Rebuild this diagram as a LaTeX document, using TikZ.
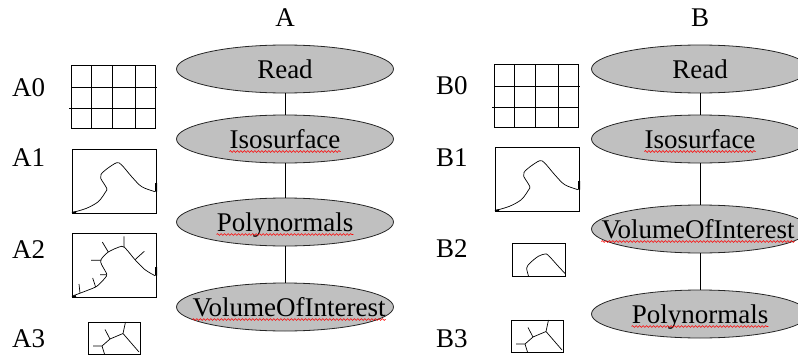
\documentclass[tikz,border=0pt]{standalone}
\usepackage{fontspec}
\setmainfont{Liberation Serif}
\usepackage{tikz}
\usetikzlibrary{shapes.geometric}
\usetikzlibrary{decorations.pathmorphing}
\usepackage{xcolor}

\definecolor{silver}{RGB}{192,192,192}
\newcommand{\bigtext}{\fontsize{27}{32}\selectfont}

% small pictures next to the stages, given by their top-left corner
\newcommand{\gridicon}[1]{%
	\begin{scope}[shift={#1}]
		\draw[thumb] (0,0) rectangle (84,63);
		\draw[thumb] (20,0)--(20,63) (41.5,0)--(41.5,63) (64,0)--(64,63);
		\draw[thumb] (0,22)--(86,22) (-2,43)--(84,43);
	\end{scope}}
\newcommand{\waveicon}[1]{%
	\begin{scope}[shift={#1}]
		\draw[thumb] (0,0) rectangle (84,64);
		\draw[thumb, line width=0.7pt] plot [smooth] coordinates {(0.3,63.5) (14,59.5) (26.3,52.7) (33.7,42.7) (34.7,39.3) (28.7,29.3) (29,25.3) (34.7,20) (44.7,13.7) (49.7,16) (59.7,27.7) (69.7,37.7) (83,42.7)};
		\draw[black, line width=2pt] (84,34)--(84,42.5) (0,64)--(4,63.2);
	\end{scope}}
\newcommand{\treeicon}[1]{%
	\begin{scope}[shift={#1}]
		\draw[thumb] (0,0) rectangle (52,32);
		\draw[thumb, line width=0.7pt] (5,24)--(14,24)--(16.5,32) (14,24)--(22,17)--(17,7.5) (22,17)--(35,11.5)--(37.5,0) (35,11.5)--(51,30);
	\end{scope}}

\begin{document}
\begin{tikzpicture}[x=1pt, y=-1pt,
	stage/.style={ellipse, draw=black!85, line width=0.8pt, fill=silver, minimum width=217pt, minimum height=48pt, inner sep=0pt},
	word/.style={font=\bigtext, inner sep=0pt, anchor=base},
	tag/.style={font=\bigtext, inner sep=0pt, anchor=base west},
	typo/.style={draw=red, line width=0.6pt, decorate, decoration={snake, amplitude=0.9pt, segment length=3.5pt}},
	thumb/.style={draw=black, line width=0.9pt},
	wire/.style={draw=black, line width=0.8pt}]
	\clip (0,0) rectangle (798,356);

	% pipeline A
	\node[word] (atitle) at (285,26) {A};
	\node[stage] (aread) at (285,69) {};
	\node[stage] (aiso) at (285,139) {};
	\node[stage] (apoly) at (285,222) {};
	\node[stage] (avoi) at (285,307) {};
	\draw[wire] (aread)--(aiso);
	\draw[wire] (aiso)--(apoly);
	\draw[wire] (apoly)--(avoi);
	\node[word] (areadt) at (285,78) {Read};
	\node[word] (aisot) at (285,148) {Isosurface};
	\node[word] (apolyt) at (285,231) {Polynormals};
	\node[word] (avoit) at (289,316) {VolumeOfInterest};
	\draw[typo] ([yshift=-3.5pt]aisot.base west)--([yshift=-3.5pt]aisot.base east);
	\draw[typo] ([yshift=-3.5pt]apolyt.base west)--([yshift=-3.5pt]apolyt.base east);
	\draw[typo] ([yshift=-3.5pt]avoit.base west)--([yshift=-3.5pt]avoit.base east);

	\node[tag] (a0) at (12,96) {A0};
	\node[tag] (a1) at (12,166) {A1};
	\node[tag] (a2) at (12,258) {A2};
	\node[tag] (a3) at (12,347) {A3};
	\gridicon{(71,65)}
	\waveicon{(72,149)}
	\begin{scope}[shift={(72,233)}]
		\draw[thumb] (0,0) rectangle (84,64);
		\draw[thumb, line width=0.7pt] plot [smooth] coordinates {(1.3,62.7) (13,58.3) (24.7,53.3) (33,45) (34.7,41) (29.7,31.7) (29,26.7) (36.3,19) (49.7,13.3) (54.7,16.7) (63,26.7) (73,36.7) (83,42.7)};
		\draw[thumb, line width=0.7pt] (8,60)--(7,51) (23.7,54.3)--(20.7,45) (28,41.7)--(34.7,41.7) (19,27.3)--(29,27.3) (36.3,19)--(30.3,9) (52,14.5)--(52,3.3) (63,26.7)--(72.3,18.3);
		\draw[black, line width=2pt] (84,34)--(84,42.5) (0,64)--(4,63.2);
	\end{scope}
	\treeicon{(88,322)}

	% pipeline B
	\node[word] (btitle) at (700,26) {B};
	\node[stage] (bread) at (700,69) {};
	\node[stage] (biso) at (700,139) {};
	\node[stage] (bvoi) at (700,229) {};
	\node[stage] (bpoly) at (700,314) {};
	\draw[wire] (bread)--(biso);
	\draw[wire] (biso)--(bvoi);
	\draw[wire] (bvoi)--(bpoly);
	\node[word] (breadt) at (700,78) {Read};
	\node[word] (bisot) at (700,148) {Isosurface};
	\node[word] (bvoit) at (698,238) {VolumeOfInterest};
	\node[word] (bpolyt) at (700,323) {Polynormals};
	\draw[typo] ([yshift=-3.5pt]bisot.base west)--([yshift=-3.5pt]bisot.base east);
	\draw[typo] ([yshift=-3.5pt]bvoit.base west)--([yshift=-3.5pt]bvoit.base east);
	\draw[typo] ([yshift=-3.5pt]bpolyt.base west)--([yshift=-3.5pt]bpolyt.base east);

	\node[tag] (b0) at (436,94) {B0};
	\node[tag] (b1) at (436,166) {B1};
	\node[tag] (b2) at (436,257) {B2};
	\node[tag] (b3) at (436,347) {B3};
	\gridicon{(494,64)}
	\waveicon{(495,147)}
	\begin{scope}[shift={(512,243)}]
		\draw[thumb] (0,0) rectangle (53.5,33);
		\draw[thumb, line width=0.7pt] plot [smooth] coordinates {(16.5,33) (14.7,25) (18,20) (26.3,13.3) (33,11) (36.3,12.3) (46.3,23.3) (53.5,31)};
	\end{scope}
	\treeicon{(511,320)}
\end{tikzpicture}
\end{document}
